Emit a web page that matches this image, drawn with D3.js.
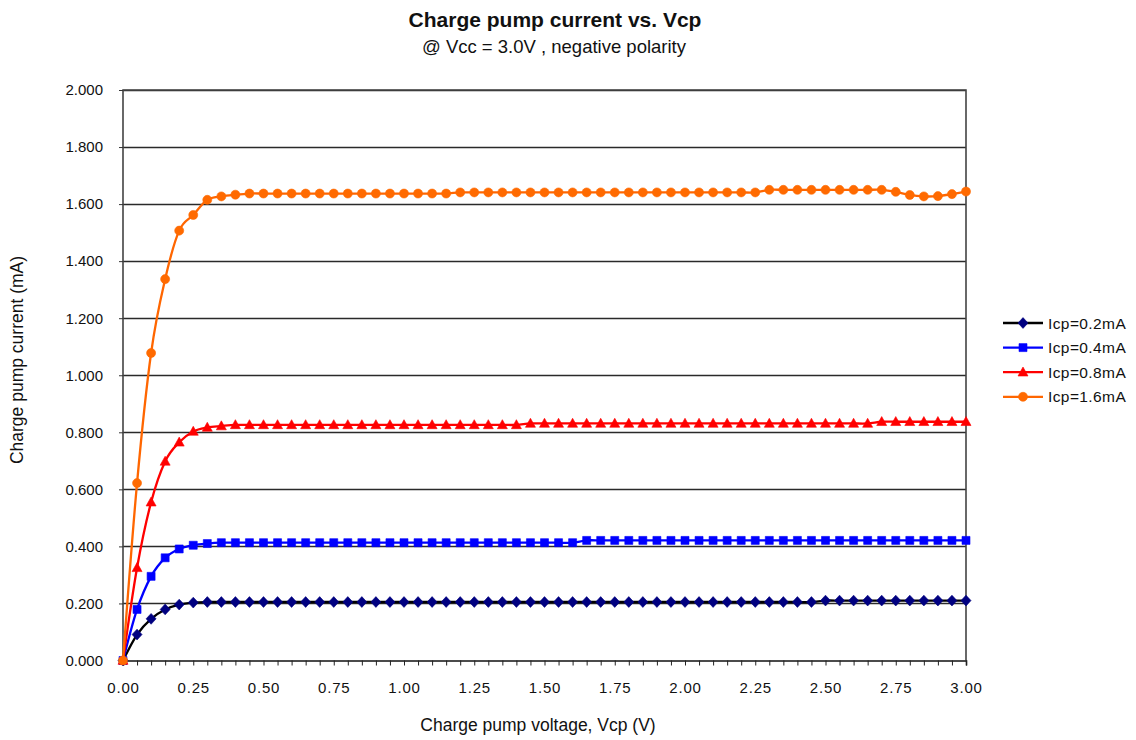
<!DOCTYPE html>
<html>
<head>
<meta charset="utf-8">
<script src="https://cdn.jsdelivr.net/npm/d3@7"></script>
<style>
  html, body { margin: 0; padding: 0; background: #ffffff; }
  svg { display: block; }
  text { font-family: "Liberation Sans", Arial, sans-serif; fill: #111; }
</style>
</head>
<body>
<svg id="chart" width="1136" height="740"></svg>
<script>
// Charge pump voltage sweep points (V)
const vcp = [
  0.00, 0.05, 0.10, 0.15, 0.20, 0.25, 0.30, 0.35, 0.40, 0.45,
  0.50, 0.55, 0.60, 0.65, 0.70, 0.75, 0.80, 0.85, 0.90, 0.95,
  1.00, 1.05, 1.10, 1.15, 1.20, 1.25, 1.30, 1.35, 1.40, 1.45,
  1.50, 1.55, 1.60, 1.65, 1.70, 1.75, 1.80, 1.85, 1.90, 1.95,
  2.00, 2.05, 2.10, 2.15, 2.20, 2.25, 2.30, 2.35, 2.40, 2.45,
  2.50, 2.55, 2.60, 2.65, 2.70, 2.75, 2.80, 2.85, 2.90, 2.95,
  3.00
];

// Measured charge pump current (mA) for each Icp setting
const icp02 = [
  0.000, 0.091, 0.146, 0.179, 0.196, 0.203, 0.205, 0.205, 0.205, 0.205,
  0.205, 0.205, 0.205, 0.205, 0.205, 0.205, 0.205, 0.205, 0.205, 0.205,
  0.205, 0.205, 0.205, 0.205, 0.205, 0.205, 0.205, 0.205, 0.205, 0.205,
  0.205, 0.205, 0.205, 0.205, 0.205, 0.205, 0.205, 0.205, 0.205, 0.205,
  0.205, 0.205, 0.205, 0.205, 0.205, 0.205, 0.205, 0.205, 0.205, 0.205,
  0.210, 0.210, 0.210, 0.210, 0.210, 0.210, 0.210, 0.210, 0.210, 0.210,
  0.210
];
const icp04 = [
  0.000, 0.179, 0.295, 0.360, 0.391, 0.404, 0.410, 0.413, 0.413, 0.413,
  0.413, 0.413, 0.413, 0.413, 0.413, 0.413, 0.413, 0.413, 0.413, 0.413,
  0.413, 0.413, 0.413, 0.413, 0.413, 0.413, 0.413, 0.413, 0.413, 0.413,
  0.413, 0.413, 0.413, 0.421, 0.421, 0.421, 0.421, 0.421, 0.421, 0.421,
  0.421, 0.421, 0.421, 0.421, 0.421, 0.421, 0.421, 0.421, 0.421, 0.421,
  0.421, 0.421, 0.421, 0.421, 0.421, 0.421, 0.421, 0.421, 0.421, 0.421,
  0.421
];
const icp08 = [
  0.000, 0.325, 0.555, 0.698, 0.765, 0.803, 0.817, 0.822, 0.826, 0.826,
  0.826, 0.826, 0.826, 0.826, 0.826, 0.826, 0.826, 0.826, 0.826, 0.826,
  0.826, 0.826, 0.826, 0.826, 0.826, 0.826, 0.826, 0.826, 0.826, 0.831,
  0.831, 0.831, 0.831, 0.831, 0.831, 0.831, 0.831, 0.831, 0.831, 0.831,
  0.831, 0.831, 0.831, 0.831, 0.831, 0.831, 0.831, 0.831, 0.831, 0.831,
  0.831, 0.831, 0.831, 0.831, 0.837, 0.837, 0.837, 0.837, 0.837, 0.837,
  0.837
];
const icp16 = [
  0.000, 0.622, 1.078, 1.337, 1.507, 1.562, 1.615, 1.627, 1.633, 1.637,
  1.637, 1.637, 1.637, 1.637, 1.637, 1.637, 1.637, 1.637, 1.637, 1.637,
  1.637, 1.637, 1.637, 1.637, 1.641, 1.641, 1.641, 1.641, 1.641, 1.641,
  1.641, 1.641, 1.641, 1.641, 1.641, 1.641, 1.641, 1.641, 1.641, 1.641,
  1.641, 1.641, 1.641, 1.641, 1.641, 1.641, 1.650, 1.650, 1.650, 1.650,
  1.650, 1.650, 1.650, 1.650, 1.650, 1.643, 1.632, 1.627, 1.628, 1.635,
  1.644
];

const seriesNames = ["Icp=0.2mA", "Icp=0.4mA", "Icp=0.8mA", "Icp=1.6mA"];
const seriesValues = [icp02, icp04, icp08, icp16];

// Axis ticks
const xTickValues = [0, 0.25, 0.5, 0.75, 1.0, 1.25, 1.5, 1.75, 2.0, 2.25, 2.5, 2.75, 3.0];
const yTickValues = [0, 0.2, 0.4, 0.6, 0.8, 1.0, 1.2, 1.4, 1.6, 1.8, 2.0];

const titleText = "Charge pump current vs. Vcp";
const subtitleText = "@ Vcc = 3.0V , negative polarity";
const xTitle = "Charge pump voltage, Vcp (V)";
const yTitle = "Charge pump current (mA)";

// Per-series appearance
const styles = [
  { line: "#000000", fill: "#000080", shape: "diamond" },
  { line: "#0000ff", fill: "#0000ff", shape: "square" },
  { line: "#ff0000", fill: "#ff0000", shape: "triangle" },
  { line: "#ff6600", fill: "#ff6a00", shape: "circle" }
];

const svg = d3.select("#chart");
const plot = { left: 123, right: 966, top: 90, bottom: 660.5 };

const x = d3.scaleLinear().domain([0, 3]).range([plot.left, plot.right]);
const y = d3.scaleLinear().domain([0, 2]).range([plot.bottom, plot.top]);

// Marker shapes
function markerPath(shape) {
  switch (shape) {
    case "diamond": return "M0,-5.4L5,0L0,5.4L-5,0Z";
    case "square": return "M-4,-4H4V4H-4Z";
    case "triangle": return "M0,-5.2L5,3.8H-5Z";
    default: return d3.symbol(d3.symbolCircle, 64)();
  }
}

// Title block
svg.append("text")
  .attr("x", 555).attr("y", 27)
  .attr("text-anchor", "middle")
  .style("font-size", "21px").style("font-weight", "bold")
  .text(titleText);
svg.append("text")
  .attr("x", 554).attr("y", 53)
  .attr("text-anchor", "middle")
  .style("font-size", "18.5px")
  .text(subtitleText);

// Horizontal gridlines
svg.append("g")
  .selectAll("line")
  .data(yTickValues.filter(v => v > 0))
  .join("line")
  .attr("x1", plot.left).attr("x2", plot.right)
  .attr("y1", d => Math.round(y(d)) + 0.5).attr("y2", d => Math.round(y(d)) + 0.5)
  .attr("stroke", "#2a2a2a").attr("stroke-width", 1.3);

// Plot frame (left, top, right)
svg.append("path")
  .attr("d", `M${plot.left},${plot.bottom}V${plot.top}H${plot.right}V${plot.bottom}`)
  .attr("fill", "none").attr("stroke", "#444").attr("stroke-width", 1.6);

// X axis: minor ticks at every sweep point, labels every 0.25 V
const xAxis = d3.axisBottom(x)
  .tickValues(vcp)
  .tickSize(5)
  .tickFormat(d => xTickValues.some(v => Math.abs(v - d) < 1e-9) ? d3.format(".2f")(d) : "");
const gx = svg.append("g")
  .attr("transform", `translate(0,${plot.bottom})`)
  .call(xAxis);
gx.select(".domain").attr("stroke", "#111").attr("stroke-width", 1.6);
gx.selectAll(".tick line").attr("stroke", "#222").attr("stroke-width", 1);
gx.selectAll(".tick text")
  .attr("y", 22)
  .style("font-family", "'Liberation Sans', Arial, sans-serif")
  .style("font-size", "15px")
  .style("letter-spacing", "0.8px")
  .attr("fill", "#262626");

// Y axis
const yAxis = d3.axisLeft(y)
  .tickValues(yTickValues)
  .tickSize(4)
  .tickFormat(d3.format(".3f"));
const gy = svg.append("g")
  .attr("transform", `translate(${plot.left},0)`)
  .call(yAxis);
gy.select(".domain").remove();
gy.selectAll(".tick line").attr("stroke", "#333");
gy.selectAll(".tick text")
  .attr("x", -20)
  .style("font-family", "'Liberation Sans', Arial, sans-serif")
  .style("font-size", "15px")
  .attr("fill", "#262626");

// Axis titles
svg.append("text")
  .attr("x", 538).attr("y", 731)
  .attr("text-anchor", "middle")
  .style("font-size", "17.5px")
  .text(xTitle);
svg.append("text")
  .attr("transform", "translate(23,360) rotate(-90)")
  .attr("text-anchor", "middle")
  .style("font-size", "17.5px")
  .text(yTitle);

// Series: smoothed lines with markers
const line = d3.line()
  .x((d, i) => x(vcp[i]))
  .y(d => y(d))
  .curve(d3.curveCatmullRom.alpha(0));

seriesValues.forEach((vals, s) => {
  const st = styles[s];
  const g = svg.append("g");
  g.append("path")
    .datum(vals)
    .attr("d", line)
    .attr("fill", "none")
    .attr("stroke", st.line)
    .attr("stroke-width", 2.3)
    .attr("stroke-linejoin", "round");
  g.selectAll("path.m")
    .data(vals)
    .join("path")
    .attr("class", "m")
    .attr("transform", (d, i) => `translate(${x(vcp[i])},${y(d)})`)
    .attr("d", markerPath(st.shape))
    .attr("fill", st.fill)
    .attr("stroke", st.fill)
    .attr("stroke-width", 0.6);
});

// Legend
const legend = svg.append("g").attr("transform", "translate(1003,323)");
seriesNames.forEach((name, s) => {
  const st = styles[s];
  const row = legend.append("g").attr("transform", `translate(0,${s * 24.6})`);
  row.append("line")
    .attr("x1", 0).attr("x2", 40).attr("y1", 0).attr("y2", 0)
    .attr("stroke", st.line).attr("stroke-width", 2.3);
  row.append("path")
    .attr("transform", "translate(20,0)")
    .attr("d", markerPath(st.shape))
    .attr("fill", st.fill).attr("stroke", st.fill).attr("stroke-width", 0.6);
  row.append("text")
    .attr("x", 45).attr("y", 0).attr("dy", "0.36em")
    .style("font-size", "15.5px")
    .style("letter-spacing", "0.4px")
    .text(name);
});
</script>
</body>
</html>
